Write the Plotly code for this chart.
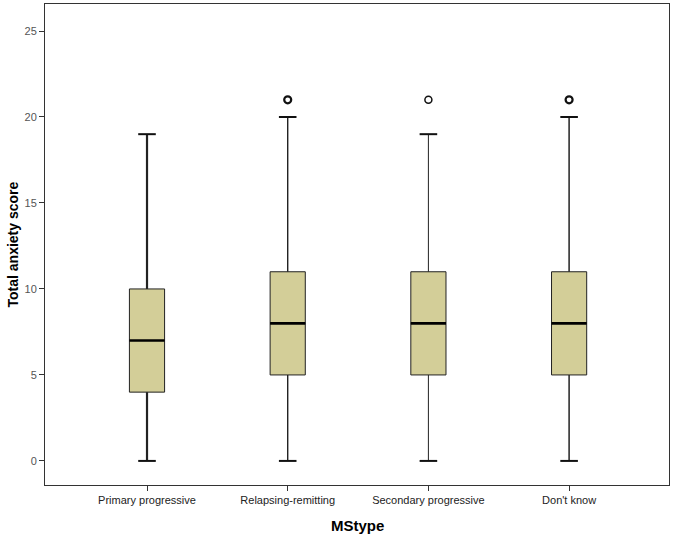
import plotly.graph_objects as go

categories = ["Primary progressive", "Relapsing-remitting", "Secondary progressive", "Don't know"]
q1 = [4, 5, 5, 5]
median = [7, 8, 8, 8]
q3 = [10, 11, 11, 11]
lower = [0, 0, 0, 0]
upper = [19, 20, 19, 20]
outliers = [[], [21], [21], [21]]
whisker_w = [2.2, 1.4, 1.0, 1.5]
y_ticks = [0, 5, 10, 15, 20, 25]

FILL = "#d3ce98"
BOXW = 0.25

fig = go.Figure()
for i, c in enumerate(categories):
    fig.add_trace(go.Scatter(
        x=[i, i, None, i, i],
        y=[lower[i], q1[i], None, q3[i], upper[i]],
        mode="lines", line=dict(color="#222222", width=whisker_w[i]),
        showlegend=False, hoverinfo="skip"))
    fig.add_trace(go.Scatter(
        x=[i - BOXW / 4, i + BOXW / 4, None, i - BOXW / 4, i + BOXW / 4],
        y=[lower[i], lower[i], None, upper[i], upper[i]],
        mode="lines", line=dict(color="#111111", width=2),
        showlegend=False, hoverinfo="skip"))
    fig.add_trace(go.Box(
        x=[i], q1=[q1[i]], median=[median[i]], q3=[q3[i]],
        lowerfence=[q1[i]], upperfence=[q3[i]],
        width=BOXW, whiskerwidth=0, fillcolor=FILL,
        line=dict(color="#222222", width=1), boxpoints=False,
        showlegend=False, name=c))
    fig.add_trace(go.Scatter(
        x=[i - BOXW / 2, i + BOXW / 2], y=[median[i], median[i]],
        mode="lines", line=dict(color="black", width=2.6),
        showlegend=False, hoverinfo="skip"))
    if outliers[i]:
        fig.add_trace(go.Scatter(
            x=[i] * len(outliers[i]), y=outliers[i], mode="markers",
            marker=dict(symbol="circle-open", size=7, color="#111111",
                        line=dict(width=2.2 if i != 2 else 1.5)),
            showlegend=False))

fig.update_layout(
    width=675, height=541,
    margin=dict(l=45, r=6, t=4, b=56, autoexpand=False),
    paper_bgcolor="white", plot_bgcolor="white",
    font=dict(family="Liberation Sans, Arial, sans-serif", color="#333333", size=11),
    xaxis=dict(
        range=[-0.725, 3.71], tickvals=list(range(len(categories))), ticktext=categories,
        showgrid=False, zeroline=False, showline=True, linecolor="#333333", linewidth=1,
        mirror=True, ticks="outside", ticklen=5, tickcolor="#333333", automargin=False,
        tickfont=dict(size=11, color="#222222")),
    yaxis=dict(
        range=[-1.4, 26.57], tickvals=y_ticks,
        showgrid=False, zeroline=False, showline=True, linecolor="#333333", linewidth=1,
        mirror=True, ticks="outside", ticklen=5, tickcolor="#333333", automargin=False,
        tickfont=dict(size=11, color="#555555")),
    annotations=[
        dict(text="<b>MStype</b>", xref="paper", yref="paper", x=0.5, y=0,
             yshift=-40, xanchor="center", yanchor="middle", showarrow=False,
             font=dict(size=15, color="black")),
        dict(text="<b>Total anxiety score</b>", xref="paper", yref="paper", x=0, y=0.5,
             xshift=-33, xanchor="center", yanchor="middle", textangle=-90, showarrow=False,
             font=dict(size=14, color="black")),
    ],
)

fig.write_html(
    "out.html",
    config={"displayModeBar": False},
    post_script="document.body.style.margin='0';document.body.style.overflow='hidden';",
)
